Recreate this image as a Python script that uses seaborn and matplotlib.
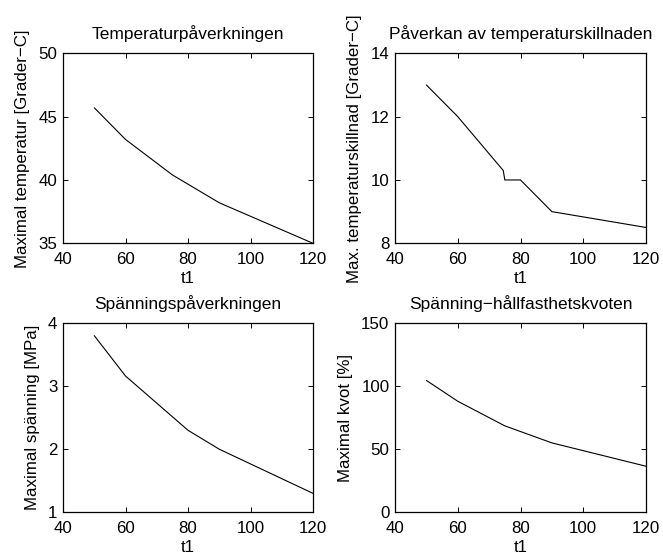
import matplotlib
matplotlib.use("Agg")
import matplotlib.pyplot as plt
import seaborn as sns
import pandas as pd

# Temperature influence
t1_temp = [50, 60, 75, 90, 120]
max_temp = [45.7, 43.2, 40.4, 38.2, 35.0]

# Influence of the temperature difference
t1_diff = [50, 60, 74.5, 75, 80, 90, 120]
max_diff = [13.0, 12.0, 10.3, 10.0, 10.0, 9.0, 8.5]

# Stress influence
t1_stress = [50, 60, 80, 90, 120]
max_stress = [3.8, 3.16, 2.3, 2.0, 1.3]

# Stress-to-strength ratio
t1_ratio = [50, 60, 75, 90, 120]
max_ratio = [104.5, 88.0, 68.5, 55.0, 36.5]

x_ticks = [40, 60, 80, 100, 120]

FS = 12.2

sns.set_theme(style="ticks")
plt.rcParams["font.family"] = ["Liberation Sans", "DejaVu Sans"]
plt.rcParams.update({
    "font.size": FS,
    "axes.linewidth": 0.9,
    "axes.edgecolor": "black",
    "xtick.direction": "in",
    "ytick.direction": "in",
    "xtick.top": True,
    "ytick.right": True,
    "xtick.major.size": 3.5,
    "ytick.major.size": 3.5,
    "xtick.major.width": 0.7,
    "ytick.major.width": 0.7,
    "xtick.major.pad": 6.3,
    "ytick.major.pad": 4,
    "xtick.labelsize": FS,
    "ytick.labelsize": FS,
    "xtick.color": "black",
    "ytick.color": "black",
    "text.color": "black",
    "axes.labelcolor": "black",
})

fig = plt.figure(figsize=(6.63, 5.59), dpi=100)

W, H = 663.0, 559.0
def frac_rect(x0, x1, ytop, ybot):
    return [x0 / W, 1 - ybot / H, (x1 - x0) / W, (ybot - ytop) / H]

panels = [
    dict(rect=frac_rect(63, 313, 53.3, 243.3), x=t1_temp, y=max_temp,
         ylim=(35, 50), yticks=[35, 40, 45, 50],
         title="Temperaturpåverkningen",
         ylabel="Maximal temperatur [Grader\u2212C]"),
    dict(rect=frac_rect(395, 646, 53.3, 243.3), x=t1_diff, y=max_diff,
         ylim=(8, 14), yticks=[8, 10, 12, 14],
         title="Påverkan av temperaturskillnaden",
         ylabel="Max. temperaturskillnad [Grader\u2212C]"),
    dict(rect=frac_rect(63, 313, 323, 512.3), x=t1_stress, y=max_stress,
         ylim=(1, 4), yticks=[1, 2, 3, 4],
         title="Spänningspåverkningen",
         ylabel="Maximal spänning [MPa]"),
    dict(rect=frac_rect(395, 646, 323, 512.3), x=t1_ratio, y=max_ratio,
         ylim=(0, 150), yticks=[0, 50, 100, 150],
         title="Spänning\u2212hållfasthetskvoten",
         ylabel="Maximal kvot [%]"),
]

for p in panels:
    ax = fig.add_axes(p["rect"])
    df = pd.DataFrame({"t1": p["x"], "val": p["y"]})
    sns.lineplot(data=df, x="t1", y="val", ax=ax, color="black",
                 linewidth=0.8, sort=False, estimator=None)
    ax.set_xlim(40, 120)
    ax.set_ylim(*p["ylim"])
    ax.set_xticks(x_ticks)
    ax.set_yticks(p["yticks"])
    ax.set_title(p["title"], fontsize=12.5, pad=10)
    ax.set_xlabel("t1", fontsize=FS, labelpad=3)
    ax.set_ylabel(p["ylabel"], fontsize=FS, labelpad=6)
    for s in ax.spines.values():
        s.set_visible(True)

fig.savefig("out.png", dpi=100)
